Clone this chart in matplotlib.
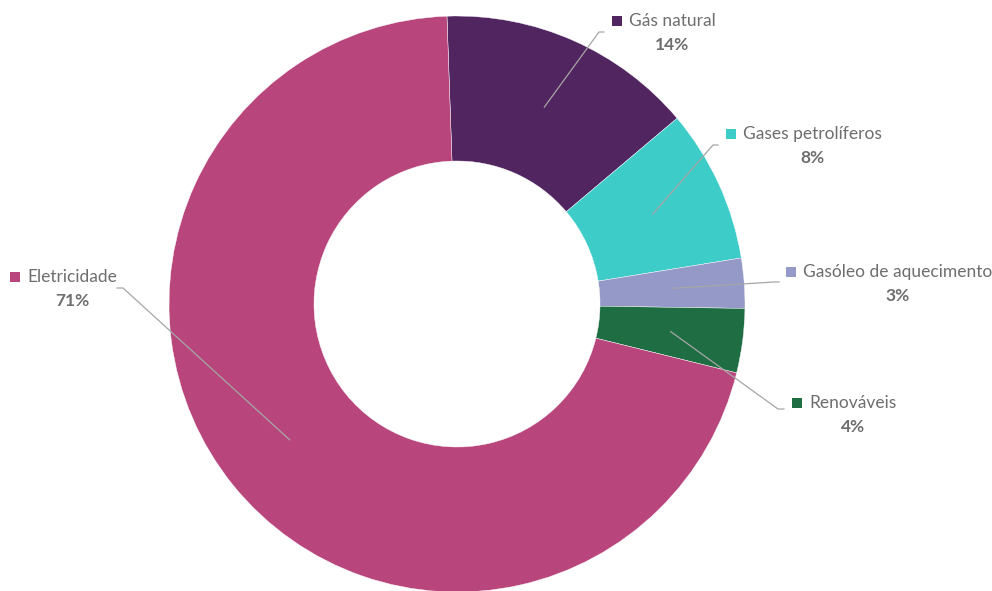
import matplotlib.pyplot as plt
from matplotlib.patches import Rectangle
import numpy as np

# data (clockwise from the top)
categories = ['Gás natural', 'Gases petrolíferos', 'Gasóleo de aquecimento', 'Renováveis', 'Eletricidade']
shares = [14.4, 8.6, 2.8, 3.6, 70.6]
pct_labels = ['14%', '8%', '3%', '4%', '71%']
colors = ['#512560', '#3ECCC8', '#9499C8', '#1F6E43', '#B8467C']

# label block centres and leader elbows, in pixels from top-left
label_pos = [(672, 21), (812, 134), (898, 272), (853, 403), (72, 277)]
elbows = [[(599, 32), (604, 32)], [(713, 145), (718, 145)], [(774, 282), (779, 282)],
          [(778, 409), (784, 409)], [(123, 288), (117, 288)]]

W, H = 992, 591
fig = plt.figure(figsize=(W / 100, H / 100), dpi=100)
ax = fig.add_axes([0, 0, 1, 1])

cx, cy, R = 457, H - 304, 288
wedges, _ = ax.pie(shares, colors=colors, startangle=92, counterclock=False,
                   center=(cx, cy), radius=R,
                   wedgeprops=dict(width=145, edgecolor='white', linewidth=0.3))
ax.set_xlim(0, W)
ax.set_ylim(0, H)
ax.axis('off')

fig.canvas.draw()
renderer = fig.canvas.get_renderer()
txt_color = '#6E6E6E'
for w, name, pct, col, (lx, ly), elb in zip(wedges, categories, pct_labels, colors, label_pos, elbows):
    mid = np.deg2rad((w.theta1 + w.theta2) / 2)
    r = R - 145 / 2
    sx, sy = cx + r * np.cos(mid), cy + r * np.sin(mid)
    xs = [sx] + [p[0] for p in elb]
    ys = [sy] + [H - p[1] for p in elb]
    ax.plot(xs, ys, color='#A6A6A6', lw=0.9)
    t = ax.text(lx, H - ly, name, ha='center', va='center', fontsize=12.5,
                family='Lato', color=txt_color)
    ax.text(lx, H - ly - 24, pct, ha='center', va='center', fontsize=12.5,
            family='Lato', color=txt_color, fontweight='bold')
    bb = t.get_window_extent(renderer)
    ax.add_patch(Rectangle((bb.x0 - 17, H - ly - 5), 10, 10, color=col, lw=0))

fig.savefig('out.png', dpi=100)
